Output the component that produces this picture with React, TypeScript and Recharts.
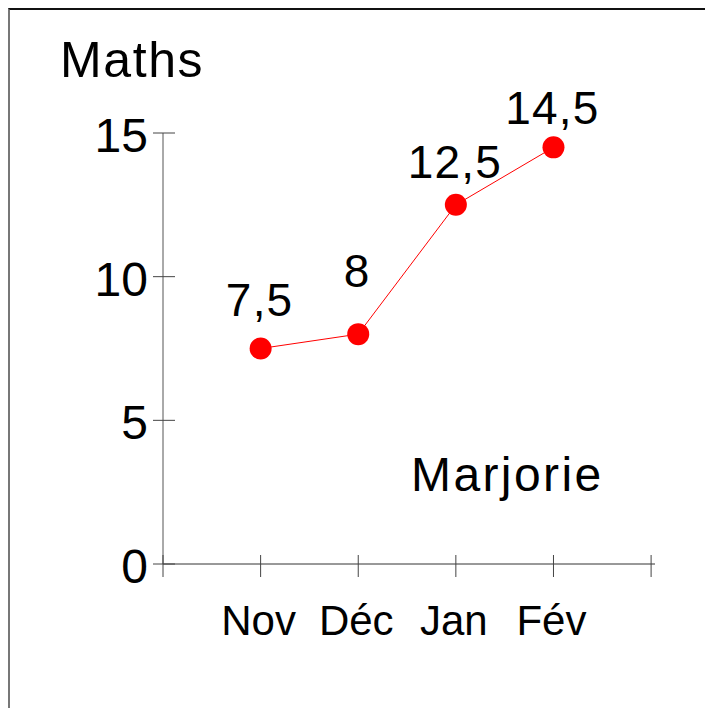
import React from 'react';
import { LineChart, Line, XAxis, YAxis, LabelList } from 'recharts';

const months = ['Nov', 'Déc', 'Jan', 'Fév'];
const scores = [7.5, 8, 12.5, 14.5];
const scoreLabels = ['7,5', '8', '12,5', '14,5'];
const yTicks = [0, 5, 10, 15];
const xTicks = [0, 1, 2, 3, 4, 5];

const data = months.map((m, i) => ({ x: i + 1, month: m, score: scores[i] }));

// the labels sit at uneven heights above their dots in the original
const labelLift = [33, 47, 27, 23];

const FONT = '"Liberation Sans", Arial, sans-serif';

const XTick = (props: any) => {
  const { x, y, payload } = props;
  const label = months[payload.value - 1];
  return (
    <g>
      <line x1={x} x2={x} y1={y - 9} y2={y + 13} stroke="#444" strokeWidth={1} />
      {label && (
        <text x={x - 2} y={y + 71} textAnchor="middle" fontSize={42} fontFamily={FONT} fill="#000">
          {label}
        </text>
      )}
    </g>
  );
};

const YTick = (props: any) => {
  const { x, y, payload } = props;
  return (
    <g>
      <line x1={x - 10} x2={x + 12} y1={y} y2={y} stroke="#444" strokeWidth={1} />
      <text x={x - 15} y={y + 19} textAnchor="end" fontSize={48} fontFamily={FONT} fill="#000">
        {payload.value}
      </text>
    </g>
  );
};

const PointLabel = (props: any) => {
  const { x, y, index } = props;
  return (
    <text
      x={x - 1}
      y={y - labelLift[index]}
      textAnchor="middle"
      fontSize={46}
      letterSpacing={1.2}
      fontFamily={FONT}
      fill="#000"
    >
      {scoreLabels[index]}
    </text>
  );
};

export default function App() {
  return (
    <div
      style={{
        position: 'relative',
        width: 697,
        height: 700,
        boxSizing: 'border-box',
        borderTop: '2px solid #111',
        borderLeft: '2px solid #777',
        background: '#fff',
      }}
    >
      <LineChart
        width={695}
        height={698}
        data={data}
        margin={{ top: 123, right: 50, left: 0, bottom: 84 }}
      >
        <XAxis
          type="number"
          dataKey="x"
          domain={[0, 5.04]}
          allowDataOverflow
          ticks={xTicks}
          interval={0}
          height={60}
          tickSize={0}
          tickMargin={0}
          tickLine={false}
          axisLine={{ stroke: '#333', strokeWidth: 1 }}
          tick={<XTick />}
        />
        <YAxis
          type="number"
          domain={[0, 15]}
          ticks={yTicks}
          interval={0}
          width={153}
          tickSize={0}
          tickMargin={0}
          tickLine={false}
          axisLine={{ stroke: '#555', strokeWidth: 1 }}
          tick={<YTick />}
        />
        <Line
          type="linear"
          dataKey="score"
          stroke="#ff0000"
          strokeWidth={1}
          dot={{ r: 11, fill: '#ff0000', stroke: 'none' }}
          activeDot={false}
          isAnimationActive={false}
        >
          <LabelList dataKey="score" content={<PointLabel />} />
        </Line>
      </LineChart>
      <svg
        width={695}
        height={698}
        style={{ position: 'absolute', left: 0, top: 0, pointerEvents: 'none' }}
      >
        <text x={50} y={67} fontSize={50} letterSpacing={1.6} fontFamily={FONT} fill="#000">
          Maths
        </text>
        <text x={401} y={481} fontSize={48} letterSpacing={2.4} fontFamily={FONT} fill="#000">
          Marjorie
        </text>
      </svg>
    </div>
  );
}
